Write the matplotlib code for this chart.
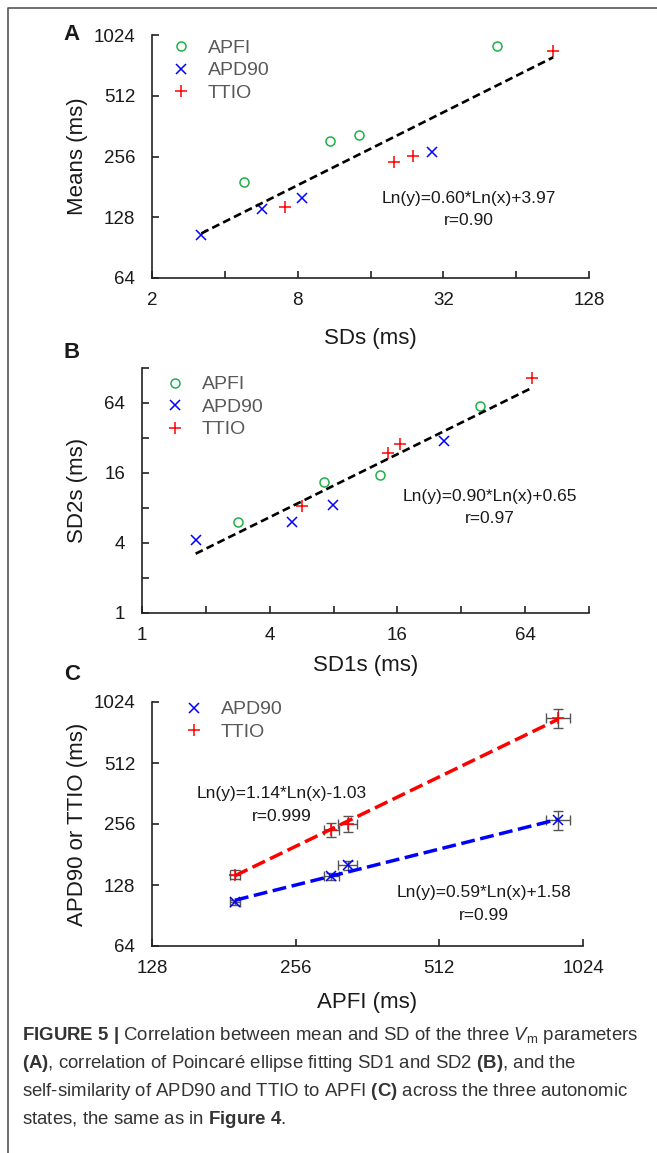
import numpy as np
import matplotlib
matplotlib.use('Agg')
import matplotlib.pyplot as plt
from matplotlib.lines import Line2D

# data (ms)
apfi_mean = [191, 304, 329, 908]
apd90_mean = [105, 141, 160, 269]
ttio_mean = [144, 240, 257, 850]
apfi_sd = [4.8, 10.9, 14.4, 53.4]
apd90_sd = [3.2, 5.7, 8.3, 28.8]
ttio_sd = [7.1, 20.0, 24.0, 91.0]

# poincare SD1 / SD2
apfi_sd1 = [2.83, 7.18, 13.3, 39.3]
apfi_sd2 = [6.06, 13.4, 15.4, 60.3]
apd90_sd1 = [1.79, 5.08, 7.91, 26.6]
apd90_sd2 = [4.24, 6.06, 8.49, 30.2]
ttio_sd1 = [5.66, 14.4, 16.5, 69.0]
ttio_sd2 = [8.32, 23.8, 28.4, 105.0]

# fitted coefficients printed on the figure: ln(y) = a*ln(x) + b, r
fit_a = (0.60, 3.97, '0.90')
fit_b = (0.90, 0.65, '0.97')
fit_c_ttio = (1.14, -1.03, '0.999')
fit_c_apd = (0.59, 1.58, '0.99')

W, H = 657, 1153
GREEN, BLUE, RED = '#1fb04a', '#0000ff', '#ff0000'
TXT = '#1a1a1a'

plt.rcParams['font.family'] = ['Liberation Sans', 'DejaVu Sans']
plt.rcParams['mathtext.fontset'] = 'custom'
plt.rcParams['mathtext.rm'] = 'Liberation Sans'
plt.rcParams['mathtext.it'] = 'Liberation Sans:italic'
plt.rcParams['mathtext.bf'] = 'Liberation Sans:bold'


def rect(l, t, r, b):
    return [l / W, 1 - b / H, (r - l) / W, (b - t) / H]


def style_axes(ax, xt, xl, yt, yl):
    ax.set_xscale('log', base=2)
    ax.set_yscale('log', base=2)
    ax.set_xlim(xt[0], xt[-1])
    ax.set_ylim(yt[0], yt[-1])
    ax.set_xticks(xt)
    ax.set_xticklabels(xl)
    ax.set_yticks(yt)
    ax.set_yticklabels(yl)
    ax.minorticks_off()
    for s in ['top', 'right']:
        ax.spines[s].set_visible(False)
    for s in ['left', 'bottom']:
        ax.spines[s].set_linewidth(1.2)
        ax.spines[s].set_color('#222222')
    ax.tick_params(axis='both', direction='in', length=5, width=1.2, colors='#222222',
                   labelsize=13.5, labelcolor=TXT)
    ax.tick_params(axis='y', pad=12)
    ax.tick_params(axis='x', pad=10)
    ax.patch.set_alpha(0)


def fit_line(ax, x, coef, **kw):
    xs = np.array([min(x), max(x)])
    ax.plot(xs, np.exp(coef[0] * np.log(xs) + coef[1]), **kw)


def eq_text(ax, fx, fy, coef):
    s = 'Ln(y)=%.2f*Ln(x)%+.2f\nr=%s' % (coef[0], coef[1], coef[2])
    ax.text(fx, fy, s, transform=ax.transAxes, ha='center', va='center', fontsize=12.5,
            color=TXT, linespacing=1.6)


def legend(ax, fx, fy):
    leg = ax.legend(loc='upper left', bbox_to_anchor=(fx, fy), frameon=False, fontsize=14,
                    handlelength=1.0, handletextpad=0.9, labelspacing=0.25, borderpad=0,
                    borderaxespad=0)
    for t in leg.get_texts():
        t.set_color('#595959')


fig = plt.figure(figsize=(W / 100, H / 100), dpi=100)

mk_o = dict(marker='o', ls='none', mfc='none', mec=GREEN, ms=6.5, mew=1.1)
mk_x = dict(marker='x', ls='none', color=BLUE, ms=7, mew=1.1)
mk_p = dict(marker='+', ls='none', color=RED, ms=9, mew=1.1)
dash_k = dict(color='k', ls=(0, (3, 1.6)), lw=1.9)

# ---- panel A
ax = fig.add_axes(rect(152, 35, 589, 278))
ax.plot(apfi_sd, apfi_mean, label='APFI', **mk_o)
ax.plot(apd90_sd, apd90_mean, label='APD90', **mk_x)
ax.plot(ttio_sd, ttio_mean, label='TTIO', **mk_p)
fit_line(ax, apfi_sd + apd90_sd + ttio_sd, fit_a, **dash_k)
style_axes(ax, [2, 4, 8, 16, 32, 64, 128], ['2', '', '8', '', '32', '', '128'],
           [64, 128, 256, 512, 1024], ['64', '128', '256', '512', '1024'])
ax.set_xlabel('SDs (ms)', fontsize=16, color=TXT, labelpad=14)
ax.set_ylabel('Means (ms)', fontsize=16, color=TXT, labelpad=4)
eq_text(ax, 0.725, 0.282, fit_a)
legend(ax, 0.043, 0.982)

# ---- panel B
ax = fig.add_axes(rect(142, 368, 589, 613))
ax.plot(apfi_sd1, apfi_sd2, label='APFI', **mk_o)
ax.plot(apd90_sd1, apd90_sd2, label='APD90', **mk_x)
ax.plot(ttio_sd1, ttio_sd2, label='TTIO', **mk_p)
fit_line(ax, apfi_sd1 + apd90_sd1 + ttio_sd1, fit_b, **dash_k)
ticks = [1, 2, 4, 8, 16, 32, 64, 128]
labs = ['1', '', '4', '', '16', '', '64', '']
style_axes(ax, ticks, labs, ticks, labs)
ax.set_xlabel('SD1s (ms)', fontsize=16, color=TXT, labelpad=8)
ax.set_ylabel('SD2s (ms)', fontsize=16, color=TXT, labelpad=12)
eq_text(ax, 0.779, 0.432, fit_b)
legend(ax, 0.051, 0.968)

# ---- panel C
ax = fig.add_axes(rect(152, 702, 583, 946))
eb = dict(fmt='none', ecolor='#555555', elinewidth=1.0, capsize=3.5, capthick=1.0)
ax.errorbar(apfi_mean, apd90_mean, xerr=apfi_sd, yerr=apd90_sd, **eb)
ax.errorbar(apfi_mean, ttio_mean, xerr=apfi_sd, yerr=ttio_sd, **eb)
ax.plot(apfi_mean, apd90_mean, label='APD90', **mk_x)
ax.plot(apfi_mean, ttio_mean, label='TTIO', **mk_p)
fit_line(ax, apfi_mean, fit_c_ttio, color=RED, ls=(0, (4, 1.6)), lw=2.5)
fit_line(ax, apfi_mean, fit_c_apd, color=BLUE, ls=(0, (4, 1.6)), lw=2.5)
style_axes(ax, [128, 256, 512, 1024], ['128', '256', '512', '1024'],
           [64, 128, 256, 512, 1024], ['64', '128', '256', '512', '1024'])
ax.set_xlabel('APFI (ms)', fontsize=16, color=TXT, labelpad=11)
ax.set_ylabel('APD90 or TTIO (ms)', fontsize=16, color=TXT, labelpad=4)
eq_text(ax, 0.302, 0.578, fit_c_ttio)
eq_text(ax, 0.770, 0.172, fit_c_apd)
legend(ax, 0.074, 1.005)

# panel letters
for lab, y in [('A', 34), ('B', 352), ('C', 675)]:
    fig.text(72 / W, 1 - y / H, lab, fontsize=16, fontweight='bold', color=TXT,
             ha='center', va='center')

# page frame (top and left edges)
fig.add_artist(Line2D([8 / W, 8 / W, 1], [0, 1 - 8 / H, 1 - 8 / H], color='#555555', lw=1.2))

caption = [
    r'$\mathbf{FIGURE\ 5\ |}$ Correlation between mean and SD of the three $V_{\mathrm{m}}$ parameters',
    r'$\mathbf{(A)}$, correlation of Poincaré ellipse fitting SD1 and SD2 $\mathbf{(B)}$, and the',
    r'self-similarity of APD90 and TTIO to APFI $\mathbf{(C)}$ across the three autonomic',
    r'states, the same as in $\mathbf{Figure\ 4}$.',
]
for i, line in enumerate(caption):
    fig.text(22 / W, 1 - (1035 + 28 * i) / H, line, fontsize=13.45, color='#333333',
             ha='left', va='center')

fig.savefig('out.png', dpi=100)
